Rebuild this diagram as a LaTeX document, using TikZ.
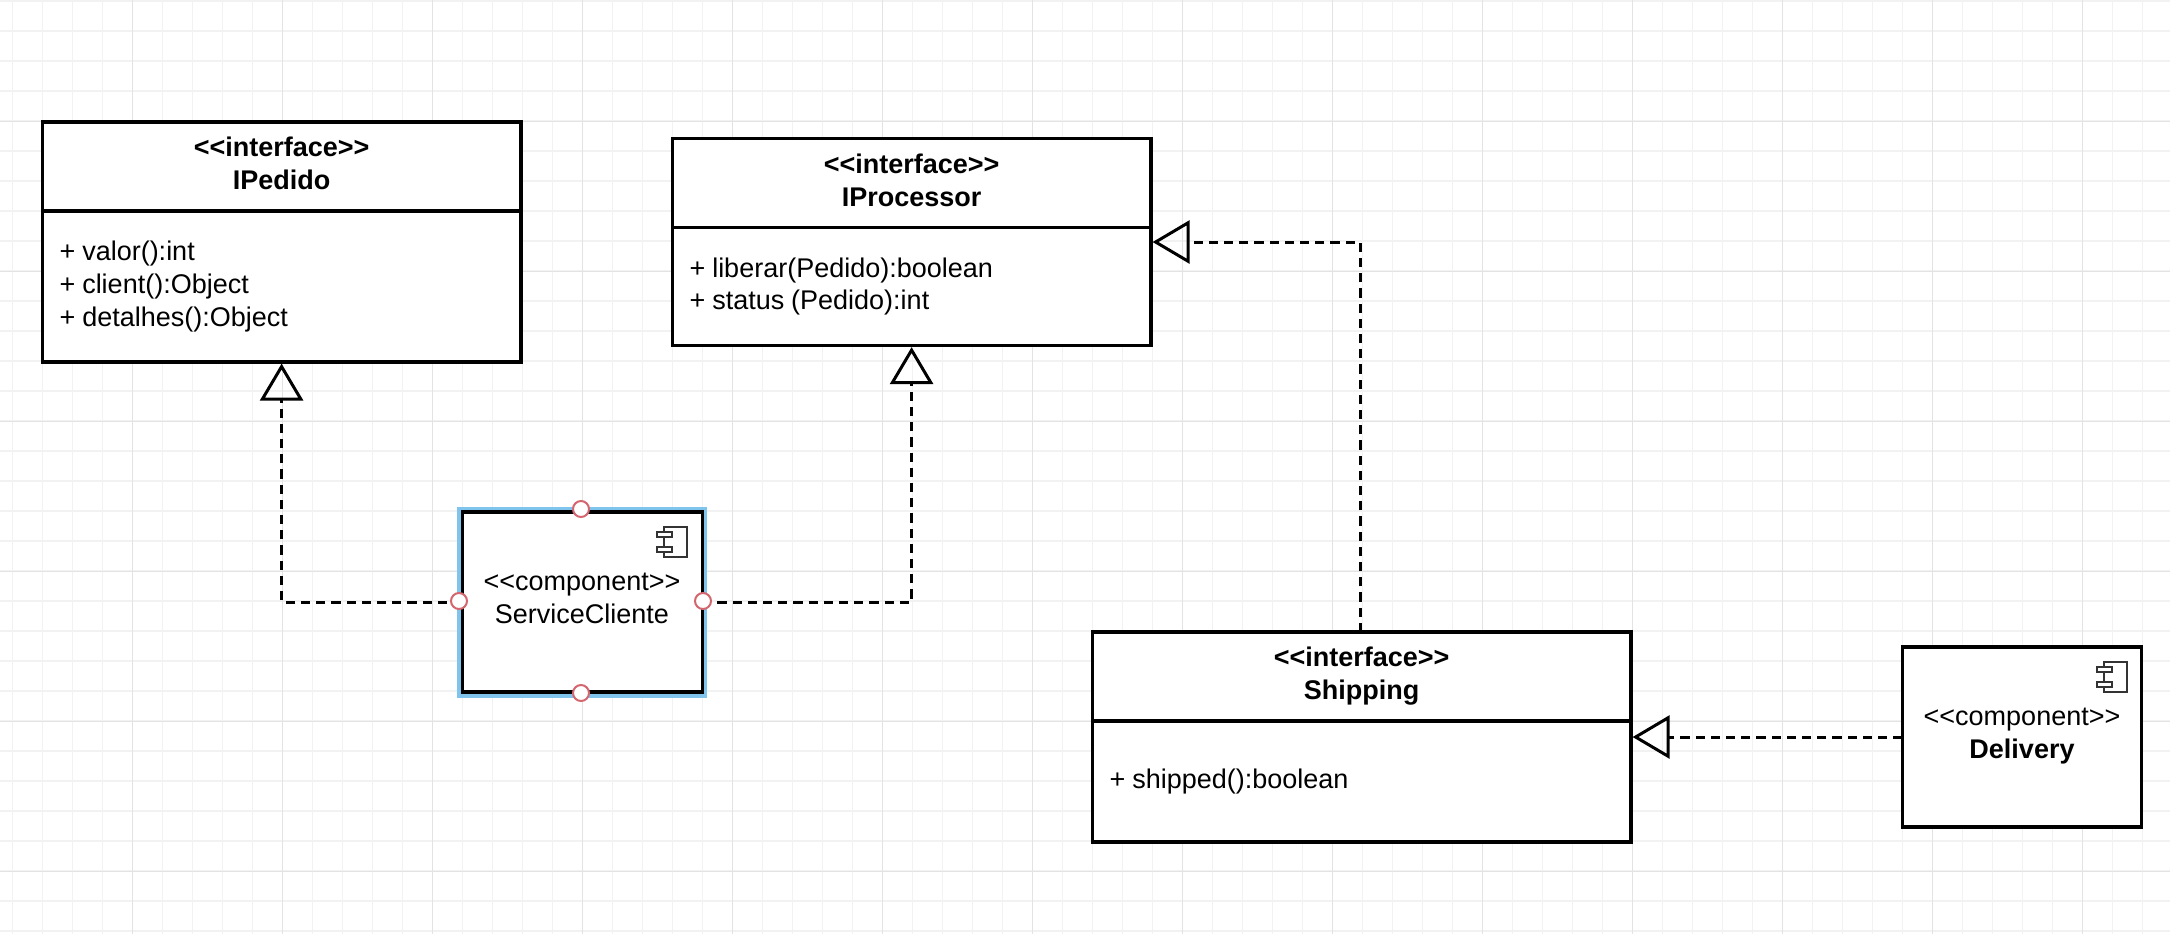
\documentclass[tikz,border=0pt]{standalone}
\usepackage{fontspec}
\setmainfont{Liberation Sans}
\usetikzlibrary{calc,arrows.meta}
\definecolor{gridminor}{HTML}{F2F2F2}
\definecolor{gridmajor}{HTML}{E3E3E3}
\definecolor{selectblue}{HTML}{7FC4EC}
\definecolor{handlered}{HTML}{D4666F}
\definecolor{icongrey}{HTML}{333333}
\newcommand{\stereotype}[1]{<{}<#1>{}>}
\tikzset{
  headbox/.style={draw, line width=1.55pt, fill=white, minimum width=239.4pt, minimum height=44.5pt, inner sep=0pt, outer sep=0pt},
  headtext/.style={anchor=north, align=center, inner sep=0pt, font=\fontsize{13.5}{16.3}\selectfont\bfseries},
  bodybox/.style={draw, line width=1.55pt, fill=white, minimum height=#1, text width=222pt, inner xsep=8.7pt, inner ysep=0pt, outer sep=0pt, align=left, anchor=north, font=\fontsize{13.5}{16.3}\selectfont, execute at begin node={\spaceskip=3.45pt\relax}},
  compbox/.style={draw, line width=1.55pt, fill=white, inner sep=0pt, outer sep=0pt},
  comptext/.style={anchor=north, align=center, inner sep=0pt, font=\fontsize{13.5}{16.3}\selectfont},
  realize/.style={line width=1.5pt, dash pattern=on 4.6pt off 3pt, -{Triangle[open,length=18.5pt,width=21.5pt]}, shorten >=0.8pt},
  handle/.style={circle, draw=handlered, line width=1pt, fill=white, minimum size=8pt, inner sep=0pt}
}
\newcommand{\compicon}[1]{
\draw[icongrey, line width=1pt] ($(#1.north east)+(-38,15)$) rectangle ($(#1.north east)+(-15,45)$);
\draw[icongrey, line width=1pt, fill=white] ($(#1.north east)+(-45,20)$) rectangle ($(#1.north east)+(-30,25)$);
\draw[icongrey, line width=1pt, fill=white] ($(#1.north east)+(-45,35)$) rectangle ($(#1.north east)+(-30,40)$);
}
\begin{document}
\begin{tikzpicture}[x=0.5pt, y=-0.5pt]
\useasboundingbox (0,0) rectangle (2170,934);
% grid
\fill[white] (0,0) rectangle (2170,934);
\foreach \gx in {0,...,72} {\draw[gridminor, line width=0.7pt] (12.5+30*\gx,0) -- (12.5+30*\gx,934);}
\foreach \gy in {0,...,31} {\draw[gridminor, line width=0.7pt] (0,1+30*\gy) -- (2170,1+30*\gy);}
\foreach \gx in {0,...,14} {\draw[gridmajor, line width=0.7pt] (132.5+150*\gx,0) -- (132.5+150*\gx,934);}
\foreach \gy in {0,...,5} {\draw[gridmajor, line width=0.7pt] (0,121.5+150*\gy) -- (2170,121.5+150*\gy);}
% interfaces
\node[headbox] (pedidohead) at (281.6, 166.5) {};
\node[headtext] (pedidoname) at (281.6, 137) {\stereotype{interface}\\IPedido};
\node[bodybox=75.5pt] (pedidobody) at (pedidohead.south) {+ valor():int\\+ client():Object\\+ detalhes():Object};
\node[headbox] (processorhead) at (911.6, 183) {};
\node[headtext] (processorname) at (911.6, 154) {\stereotype{interface}\\IProcessor};
\node[bodybox=59pt] (processorbody) at (processorhead.south) {+ liberar(Pedido):boolean\\+ status (Pedido):int};
\node[headbox, minimum width=269.4pt] (shippinghead) at (1361.6, 676.5) {};
\node[headtext] (shippingname) at (1361.6, 647) {\stereotype{interface}\\Shipping};
\node[bodybox=60.5pt, text width=252pt] (shippingbody) at (shippinghead.south) {+ shipped():boolean};
% components
\fill[selectblue] (457,507) rectangle (707,698);
\node[compbox, minimum width=120pt, minimum height=90pt] (cliente) at (582.2, 602) {};
\node[comptext] (clientetext) at (582, 573) {\stereotype{component}\\ServiceCliente};
\compicon{cliente}
\node[compbox, minimum width=119.7pt, minimum height=90pt] (delivery) at (2022, 737) {};
\node[comptext] (deliverytext) at (2022, 708) {\stereotype{component}\\\textbf{Delivery}};
\compicon{delivery}
% connectors
\draw[realize] (cliente.west) -| (pedidobody.south);
\draw[realize] (cliente.east) -| (processorbody.south);
\draw[realize] (shippinghead.north -| 1360,0) |- (processorhead.south east |- 0,242);
\draw[realize] (delivery.west) -- (shippingbody.east |- delivery.west);
% handles
\node[handle] (handletop) at (581, 509) {};
\node[handle] (handleleft) at (459, 601) {};
\node[handle] (handleright) at (703, 601) {};
\node[handle] (handlebottom) at (581, 693) {};
\end{tikzpicture}
\end{document}
